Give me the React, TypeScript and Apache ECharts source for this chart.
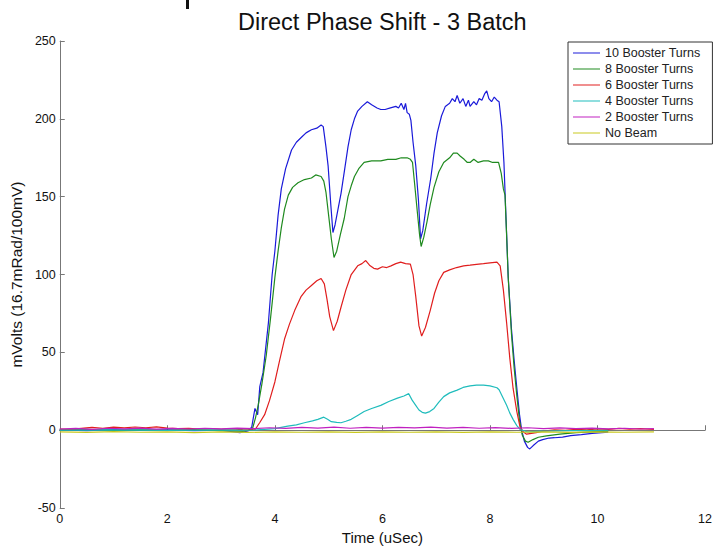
import React, { useEffect, useRef } from "react";
import * as echarts from "echarts";

const seriesNames = ["10 Booster Turns", "8 Booster Turns", "6 Booster Turns", "4 Booster Turns", "2 Booster Turns", "No Beam"];
const seriesColors = ["#1a1ad9", "#1f8a1f", "#e01e1e", "#1fbcbc", "#c020c0", "#c8c81e"];

const xTicks = [0, 2, 4, 6, 8, 10, 12];
const yTicks = [-50, 0, 50, 100, 150, 200, 250];

const blue = [
  [0, 0.3], [0.5, -0.2], [1, 0.4], [1.5, 0], [2, 0.3], [2.5, -0.3], [3, 0], [3.35, -1.5], [3.5, -0.5], [3.57, 2],
  [3.63, 14], [3.68, 10], [3.72, 28], [3.78, 37], [3.88, 69], [3.95, 100], [4.0, 115], [4.06, 138], [4.12, 155],
  [4.2, 168], [4.31, 180], [4.4, 185], [4.49, 188], [4.58, 191], [4.68, 193], [4.78, 194], [4.86, 196], [4.9, 195],
  [4.95, 182], [4.99, 170], [5.04, 145], [5.08, 127], [5.12, 132], [5.18, 143], [5.23, 152], [5.3, 168], [5.36, 182],
  [5.42, 193], [5.48, 200], [5.54, 205], [5.62, 208], [5.72, 211], [5.8, 209], [5.9, 207], [5.97, 206], [6.05, 206],
  [6.15, 207], [6.25, 208], [6.3, 207], [6.35, 210], [6.4, 206], [6.43, 210], [6.46, 204], [6.5, 203], [6.53, 199],
  [6.57, 185], [6.62, 170], [6.67, 148], [6.71, 123], [6.75, 128], [6.82, 145], [6.9, 162], [6.96, 178], [7.02, 191],
  [7.1, 202], [7.17, 208], [7.25, 210], [7.3, 213], [7.35, 211], [7.39, 215], [7.44, 210], [7.5, 213], [7.55, 208],
  [7.6, 212], [7.63, 208], [7.7, 211], [7.75, 209], [7.8, 213], [7.85, 212], [7.9, 216], [7.94, 218], [7.98, 213],
  [8.03, 211], [8.08, 214], [8.13, 212], [8.17, 211], [8.22, 195], [8.26, 172], [8.3, 135], [8.34, 98], [8.4, 65],
  [8.45, 45], [8.5, 27], [8.55, 10], [8.59, 0], [8.64, -7], [8.7, -11], [8.74, -12], [8.8, -10], [8.9, -7], [8.98, -6],
  [9.1, -5], [9.2, -4.8], [9.35, -4.4], [9.5, -3.5], [9.7, -2.8], [9.9, -2], [10.2, -1.3],
];

const green = [
  [0, 0.2], [0.5, 0.5], [1, -0.1], [1.5, 0.3], [2, 0], [2.5, 0.4], [3, -0.2], [3.4, -0.8], [3.58, 0.5], [3.64, 8],
  [3.69, 16], [3.76, 30], [3.84, 48], [3.92, 72], [4.0, 98], [4.06, 115], [4.12, 130], [4.18, 142], [4.25, 151],
  [4.33, 156], [4.43, 159], [4.55, 161], [4.68, 162], [4.76, 164], [4.86, 163], [4.91, 160], [4.95, 153], [5.0, 138],
  [5.05, 123], [5.1, 111], [5.15, 115], [5.22, 126], [5.29, 136], [5.36, 150], [5.42, 157], [5.48, 163], [5.56, 168],
  [5.66, 172], [5.8, 173], [5.97, 173], [6.1, 174], [6.25, 174], [6.35, 175], [6.46, 175], [6.52, 174], [6.56, 172],
  [6.6, 158], [6.65, 140], [6.69, 126], [6.72, 118], [6.77, 124], [6.83, 134], [6.89, 145], [6.96, 156], [7.05, 166],
  [7.14, 172], [7.25, 175], [7.32, 178], [7.39, 178], [7.45, 176], [7.52, 174], [7.58, 172], [7.63, 172], [7.7, 174],
  [7.78, 172], [7.88, 173], [7.97, 173], [8.05, 172], [8.16, 172], [8.21, 165], [8.25, 155], [8.28, 151], [8.31, 125],
  [8.34, 98], [8.4, 62], [8.45, 40], [8.5, 22], [8.55, 6], [8.6, -3], [8.66, -7], [8.71, -7.7], [8.8, -6], [8.9, -4.5],
  [9.05, -3.6], [9.3, -2.5], [9.6, -1.5], [9.9, -1], [10.2, -0.5],
];

const red = [
  [0, 0.8], [0.2, 0.5], [0.4, 1.2], [0.6, 1.8], [0.8, 1.3], [1.0, 2.0], [1.2, 1.5], [1.4, 2.1], [1.6, 1.6], [1.8, 2.2],
  [2.0, 1.4], [2.2, 1.0], [2.4, 1.3], [2.6, 0.8], [2.8, 1.1], [3.0, 0.6], [3.2, 0.9], [3.4, 0.4], [3.63, 0.3], [3.72, 5],
  [3.81, 10], [3.9, 19], [4.0, 31], [4.09, 45], [4.18, 58.6], [4.27, 68], [4.37, 77], [4.49, 86], [4.58, 90], [4.68, 93],
  [4.78, 96], [4.86, 97.5], [4.92, 94], [4.97, 84], [5.02, 73], [5.09, 64], [5.16, 70], [5.23, 79], [5.32, 90],
  [5.42, 100], [5.54, 105.6], [5.62, 107], [5.69, 109], [5.76, 106], [5.84, 104], [5.91, 103.5], [6.0, 105],
  [6.08, 104.5], [6.16, 105.6], [6.25, 107], [6.34, 108], [6.43, 107], [6.52, 106.7], [6.57, 100], [6.62, 86],
  [6.68, 67], [6.73, 60.5], [6.8, 66], [6.89, 77], [6.97, 88], [7.05, 96], [7.14, 101.4], [7.25, 103], [7.38, 104.5],
  [7.51, 105.6], [7.63, 106], [7.75, 106.5], [7.88, 107], [8.0, 107.5], [8.13, 108], [8.19, 105.6], [8.25, 90],
  [8.31, 69], [8.37, 46], [8.43, 27], [8.5, 12], [8.56, 2], [8.62, -1], [8.68, -2.5], [8.86, -1.5], [9.0, -0.5],
  [9.2, 0.3], [9.4, 0], [9.6, 0.6], [9.8, 0.3], [10.0, 0.9], [10.2, 0.5], [10.4, 1.2], [10.6, 0.7], [10.8, 1.1], [11.05, 0.6],
];

const cyan = [
  [0, 0.1], [1, 0.3], [2, -0.1], [3, 0.2], [3.6, 0], [4.0, 1], [4.24, 2.7], [4.4, 3.5], [4.55, 4.8], [4.7, 6], [4.8, 7],
  [4.91, 8.4], [4.98, 7], [5.05, 5.5], [5.15, 5], [5.23, 4.8], [5.32, 5.8], [5.42, 7], [5.54, 9.5], [5.66, 12], [5.8, 14],
  [5.97, 16], [6.12, 18.5], [6.28, 20.6], [6.4, 22], [6.49, 23.5], [6.55, 19.5], [6.62, 16], [6.68, 13], [6.74, 11.5],
  [6.8, 11], [6.88, 12], [6.96, 14], [7.05, 18], [7.14, 21.6], [7.25, 24], [7.39, 25.8], [7.5, 27.5], [7.63, 28.5],
  [7.75, 29], [7.88, 29], [8.0, 28.5], [8.13, 27.3], [8.17, 26], [8.24, 21], [8.31, 16], [8.37, 11], [8.43, 7], [8.5, 3],
  [8.56, 0.5], [8.7, -1], [9.0, -0.5], [9.5, -0.3], [10.2, 0],
];

const magenta = [
  [0, 0.8], [0.3, 1.2], [0.6, 0.6], [0.9, 1.3], [1.2, 0.9], [1.5, 1.4], [1.8, 0.7], [2.1, 1.2], [2.4, 0.8], [2.7, 1.3],
  [3.0, 0.9], [3.3, 1.4], [3.6, 1.0], [3.9, 1.6], [4.2, 1.2], [4.5, 1.9], [4.8, 1.4], [5.1, 2.0], [5.4, 1.3], [5.7, 1.8],
  [6.0, 1.4], [6.3, 1.9], [6.6, 1.5], [6.9, 2.0], [7.2, 1.4], [7.5, 1.8], [7.8, 1.3], [8.1, 1.7], [8.4, 1.2], [8.7, 1.6],
  [9.0, 1.1], [9.3, 1.5], [9.6, 1.0], [9.9, 1.4], [10.2, 0.9], [10.5, 1.3], [10.8, 0.8], [11.05, 1.1],
];

const yellow = [
  [0, -1.0], [0.5, -1.4], [1, -0.9], [1.5, -1.3], [2, -1.0], [2.5, -1.5], [3, -1.1], [3.5, -1.4], [4, -1.0], [4.5, -1.3],
  [5, -1.1], [5.5, -1.4], [6, -1.0], [6.5, -1.3], [7, -1.1], [7.5, -1.4], [8, -1.0], [8.5, -1.3], [9, -1.1], [9.5, -1.4],
  [10, -1.0], [10.5, -1.3], [11.05, -1.1],
];

const allData = [blue, green, red, cyan, magenta, yellow];

const FONT = "'Liberation Sans', Arial, sans-serif";

export default function App() {
  const ref = useRef<HTMLDivElement>(null);
  useEffect(() => {
    if (!ref.current) return;
    const chart = echarts.init(ref.current, undefined, { renderer: "svg" });
    chart.setOption({
      animation: false,
      backgroundColor: "#ffffff",
      title: {
        text: "Direct Phase Shift - 3 Batch",
        left: 233,
        top: 5,
        textStyle: { fontFamily: FONT, fontSize: 23.5, fontWeight: "normal", color: "#111" },
      },
      graphic: [
        { type: "rect", left: 186, top: 0, shape: { width: 3, height: 9 }, style: { fill: "#111" } },
      ],
      legend: {
        data: seriesNames,
        orient: "vertical",
        left: 568,
        top: 42,
        padding: [4, 12, 4, 5],
        itemGap: 2,
        itemWidth: 27,
        itemHeight: 1,
        icon: "rect",
        borderColor: "#333",
        borderWidth: 1,
        borderRadius: 0,
        backgroundColor: "#fff",
        textStyle: { fontFamily: FONT, fontSize: 12.5, lineHeight: 14, color: "#222" },
      },
      grid: { left: 55, right: 7, top: 41, bottom: 34, containLabel: false },
      xAxis: {
        type: "value",
        min: xTicks[0],
        max: xTicks[xTicks.length - 1],
        interval: 2,
        name: "Time (uSec)",
        nameLocation: "middle",
        nameGap: 15,
        nameTextStyle: { fontFamily: FONT, fontSize: 15, color: "#111" },
        axisLine: { show: true, lineStyle: { color: "#777", width: 1 } },
        axisTick: { show: true, inside: true, length: 5, lineStyle: { color: "#777" } },
        axisLabel: { fontFamily: FONT, fontSize: 12.5, color: "#111", margin: 4 },
        splitLine: { show: false },
      },
      yAxis: {
        type: "value",
        min: yTicks[0],
        max: yTicks[yTicks.length - 1],
        interval: 50,
        name: "mVolts (16.7mRad/100mV)",
        nameLocation: "middle",
        nameGap: 27,
        nameTextStyle: { fontFamily: FONT, fontSize: 15.5, color: "#111" },
        axisLine: { show: true, lineStyle: { color: "#777", width: 1 } },
        axisTick: { show: true, inside: true, length: 5, lineStyle: { color: "#777" } },
        axisLabel: { fontFamily: FONT, fontSize: 12.5, color: "#111", margin: 4 },
        splitLine: { show: false },
      },
      series: seriesNames.map((name, i) => ({
        name,
        type: "line",
        data: allData[i],
        showSymbol: false,
        symbol: "none",
        color: seriesColors[i],
        lineStyle: { width: 1.2, color: seriesColors[i] },
        z: 2 + i,
      })),
    });
    return () => chart.dispose();
  }, []);
  return (
    <div
      ref={ref}
      style={{ position: "fixed", left: 0, top: 0, width: 715, height: 550, overflow: "hidden", background: "#fff" }}
    />
  );
}
